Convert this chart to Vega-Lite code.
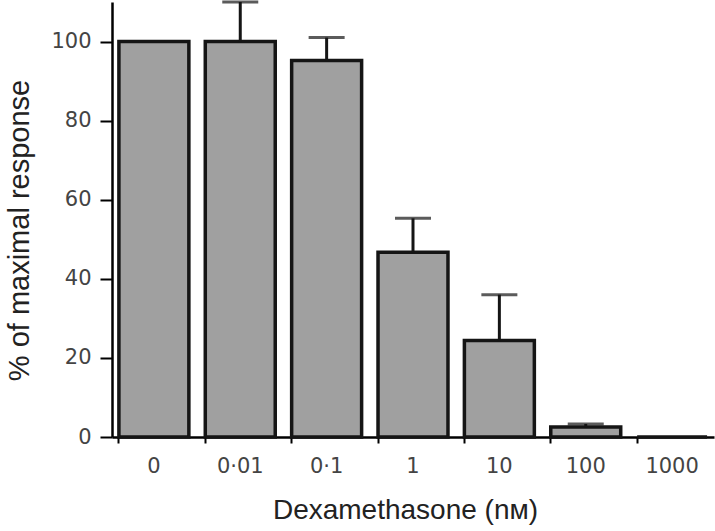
{
  "$schema": "https://vega.github.io/schema/vega-lite/v6.json",
  "width": 602,
  "height": 435,
  "autosize": {"type": "none"},
  "padding": {"left": 112, "top": 2, "right": 1, "bottom": 94},
  "background": "white",
  "config": {"view": {"stroke": null}, "font": "Liberation Sans"},
  "data": {
    "values": [
      {"dose": "0", "value": 100, "upper": null},
      {"dose": "0·01", "value": 100, "upper": 110},
      {"dose": "0·1", "value": 95.2, "upper": 101},
      {"dose": "1", "value": 46.7, "upper": 55.3},
      {"dose": "10", "value": 24.4, "upper": 36},
      {"dose": "100", "value": 2.5, "upper": 3.3},
      {"dose": "1000", "value": 0, "upper": null}
    ]
  },
  "encoding": {
    "x": {
      "field": "dose", "type": "nominal", "sort": null,
      "scale": {"paddingInner": 0.19, "paddingOuter": 0.08},
      "axis": {
        "title": "Dexamethasone (nᴍ)", "titleFontSize": 28, "titleFontWeight": "normal", "titleColor": "#222", "titlePadding": 20, "titleX": 293, "titleAlign": "center",
        "labelAngle": 0, "labelFont": "DejaVu Sans", "labelFontSize": 21, "labelColor": "#444", "labelPadding": 12,
        "bandPosition": 0, "tickSize": 6, "tickColor": "black", "tickWidth": 2,
        "domainColor": "black", "domainWidth": 2.5, "grid": false
      }
    }
  },
  "layer": [
    {
      "mark": {"type": "bar", "fill": "#a0a0a0", "stroke": "#151515", "strokeWidth": 3.5},
      "encoding": {
        "y": {
          "field": "value", "type": "quantitative",
          "scale": {"domain": [0, 110], "nice": false},
          "axis": {
            "title": "% of maximal response", "titleFontSize": 29, "titleFontWeight": "normal", "titleColor": "#222", "titlePadding": 16, "titleY": 228,
            "values": [0, 10, 20, 30, 40, 50, 60, 70, 80, 90, 100, 110],
            "labelExpr": "datum.value % 20 == 0 && datum.value <= 100 ? datum.label : ''",
            "labelFont": "DejaVu Sans", "labelFontSize": 21, "labelColor": "#444", "labelPadding": 9,
            "tickSize": {"condition": {"test": "datum.value % 20 == 0 && datum.value <= 100", "value": 12}, "value": 6},
            "tickColor": "black", "tickWidth": 2,
            "domainColor": "black", "domainWidth": 2.5, "grid": false
          }
        }
      }
    },
    {
      "mark": {"type": "rule", "color": "#151515", "strokeWidth": 3},
      "encoding": {
        "y": {"field": "value", "type": "quantitative"},
        "y2": {"field": "upper"}
      }
    },
    {
      "mark": {"type": "tick", "color": "#151515", "orient": "horizontal", "size": 36, "thickness": 3},
      "encoding": {
        "y": {"field": "upper", "type": "quantitative"}
      }
    }
  ]
}
